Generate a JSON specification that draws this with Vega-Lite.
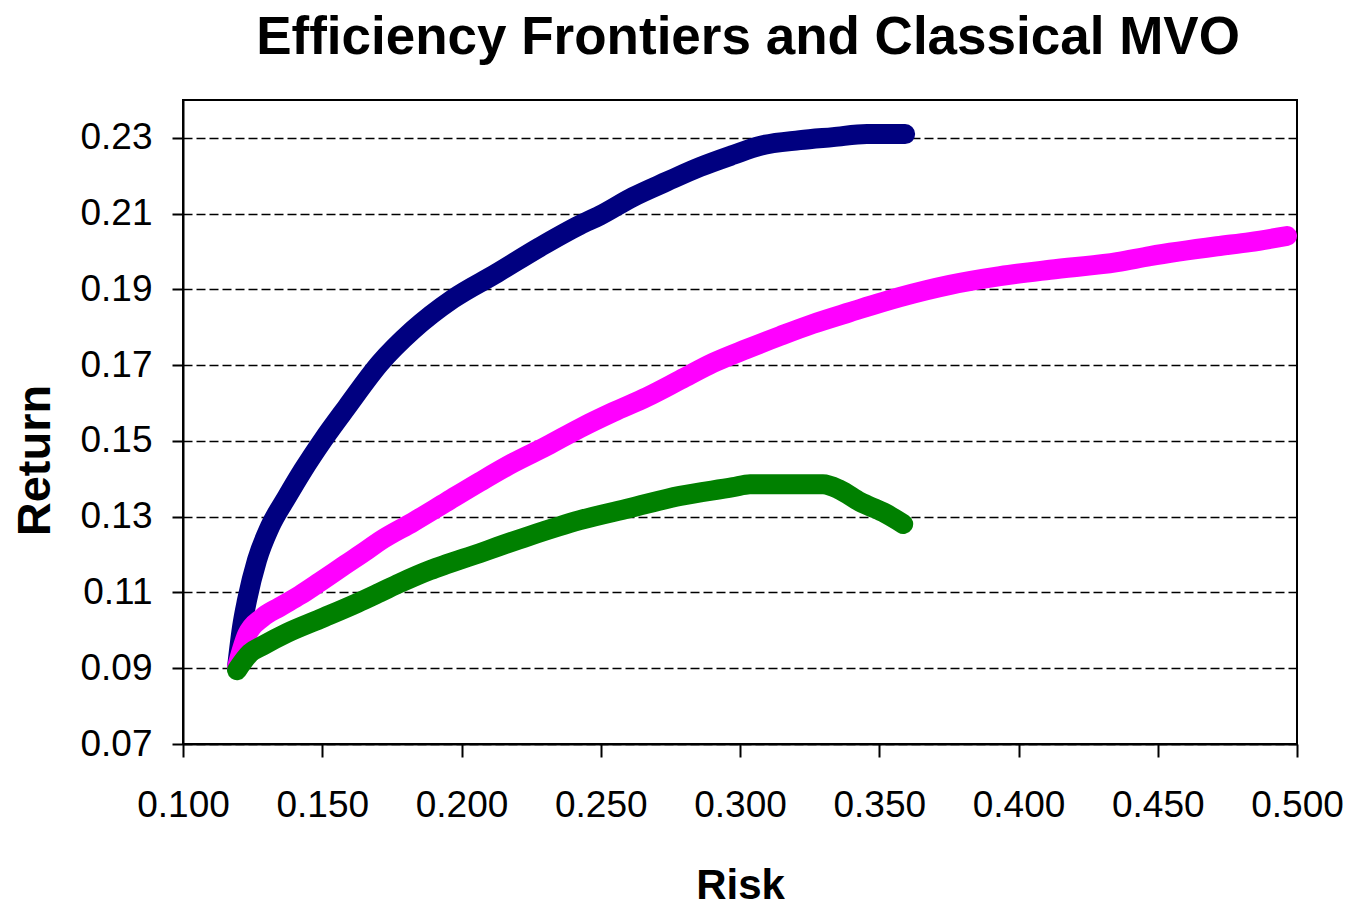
{
  "$schema": "https://vega.github.io/schema/vega-lite/v6.json",
  "autosize": {"type": "none"},
  "width": 1114,
  "height": 644,
  "padding": {"left": 183, "top": 100, "right": 53, "bottom": 162},
  "background": "white",
  "title": {
    "text": "Efficiency Frontiers and Classical MVO",
    "font": "Liberation Sans",
    "fontSize": 53,
    "fontWeight": "bold",
    "color": "black",
    "anchor": "middle",
    "baseline": "alphabetic",
    "offset": 0,
    "dy": 7,
    "dx": 8
  },
  "config": {
    "view": {"stroke": "black", "strokeWidth": 2},
    "axis": {
      "domainColor": "black",
      "domainWidth": 2,
      "tickColor": "black",
      "tickWidth": 2,
      "labelColor": "black",
      "titleColor": "black",
      "labelFont": "Liberation Sans",
      "titleFont": "Liberation Sans",
      "labelFontSize": 37,
      "titleFontSize": 42,
      "titleFontWeight": "bold"
    }
  },
  "data": {
    "values": [
      {"series": "Blue", "risk": 0.1194, "ret": 0.0903},
      {"series": "Blue", "risk": 0.1212, "ret": 0.1009},
      {"series": "Blue", "risk": 0.1230, "ret": 0.1080},
      {"series": "Blue", "risk": 0.1266, "ret": 0.1186},
      {"series": "Blue", "risk": 0.1312, "ret": 0.1273},
      {"series": "Blue", "risk": 0.1373, "ret": 0.1352},
      {"series": "Blue", "risk": 0.1431, "ret": 0.1423},
      {"series": "Blue", "risk": 0.1503, "ret": 0.1503},
      {"series": "Blue", "risk": 0.1589, "ret": 0.1590},
      {"series": "Blue", "risk": 0.1707, "ret": 0.1705},
      {"series": "Blue", "risk": 0.1826, "ret": 0.1793},
      {"series": "Blue", "risk": 0.1969, "ret": 0.1875},
      {"series": "Blue", "risk": 0.2127, "ret": 0.1943},
      {"series": "Blue", "risk": 0.2282, "ret": 0.2012},
      {"series": "Blue", "risk": 0.2425, "ret": 0.2070},
      {"series": "Blue", "risk": 0.2497, "ret": 0.2095},
      {"series": "Blue", "risk": 0.2616, "ret": 0.2144},
      {"series": "Blue", "risk": 0.2738, "ret": 0.2185},
      {"series": "Blue", "risk": 0.2856, "ret": 0.2223},
      {"series": "Blue", "risk": 0.2975, "ret": 0.2255},
      {"series": "Blue", "risk": 0.3072, "ret": 0.2279},
      {"series": "Blue", "risk": 0.3215, "ret": 0.2294},
      {"series": "Blue", "risk": 0.3334, "ret": 0.2302},
      {"series": "Blue", "risk": 0.3456, "ret": 0.2310},
      {"series": "Blue", "risk": 0.3593, "ret": 0.2310},

      {"series": "Magenta", "risk": 0.1194, "ret": 0.0903},
      {"series": "Magenta", "risk": 0.1230, "ret": 0.0988},
      {"series": "Magenta", "risk": 0.1284, "ret": 0.1033},
      {"series": "Magenta", "risk": 0.1348, "ret": 0.1062},
      {"series": "Magenta", "risk": 0.1420, "ret": 0.1093},
      {"series": "Magenta", "risk": 0.1492, "ret": 0.1128},
      {"series": "Magenta", "risk": 0.1582, "ret": 0.1173},
      {"series": "Magenta", "risk": 0.1661, "ret": 0.1212},
      {"series": "Magenta", "risk": 0.1707, "ret": 0.1236},
      {"series": "Magenta", "risk": 0.1826, "ret": 0.1286},
      {"series": "Magenta", "risk": 0.1948, "ret": 0.1340},
      {"series": "Magenta", "risk": 0.2066, "ret": 0.1392},
      {"series": "Magenta", "risk": 0.2185, "ret": 0.1442},
      {"series": "Magenta", "risk": 0.2307, "ret": 0.1487},
      {"series": "Magenta", "risk": 0.2426, "ret": 0.1534},
      {"series": "Magenta", "risk": 0.2544, "ret": 0.1576},
      {"series": "Magenta", "risk": 0.2666, "ret": 0.1616},
      {"series": "Magenta", "risk": 0.2785, "ret": 0.1661},
      {"series": "Magenta", "risk": 0.2903, "ret": 0.1706},
      {"series": "Magenta", "risk": 0.3025, "ret": 0.1743},
      {"series": "Magenta", "risk": 0.3144, "ret": 0.1777},
      {"series": "Magenta", "risk": 0.3262, "ret": 0.1809},
      {"series": "Magenta", "risk": 0.3395, "ret": 0.1840},
      {"series": "Magenta", "risk": 0.3575, "ret": 0.1880},
      {"series": "Magenta", "risk": 0.3754, "ret": 0.1912},
      {"series": "Magenta", "risk": 0.3934, "ret": 0.1935},
      {"series": "Magenta", "risk": 0.4113, "ret": 0.1952},
      {"series": "Magenta", "risk": 0.4354, "ret": 0.1972},
      {"series": "Magenta", "risk": 0.4472, "ret": 0.1988},
      {"series": "Magenta", "risk": 0.4713, "ret": 0.2014},
      {"series": "Magenta", "risk": 0.4831, "ret": 0.2025},
      {"series": "Magenta", "risk": 0.4964, "ret": 0.2041},

      {"series": "Green", "risk": 0.1194, "ret": 0.0895},
      {"series": "Green", "risk": 0.1241, "ret": 0.0940},
      {"series": "Green", "risk": 0.1287, "ret": 0.0960},
      {"series": "Green", "risk": 0.1373, "ret": 0.0993},
      {"series": "Green", "risk": 0.1492, "ret": 0.1030},
      {"series": "Green", "risk": 0.1625, "ret": 0.1072},
      {"series": "Green", "risk": 0.1707, "ret": 0.1100},
      {"series": "Green", "risk": 0.1779, "ret": 0.1125},
      {"series": "Green", "risk": 0.1887, "ret": 0.1159},
      {"series": "Green", "risk": 0.1948, "ret": 0.1175},
      {"series": "Green", "risk": 0.2066, "ret": 0.1204},
      {"series": "Green", "risk": 0.2127, "ret": 0.1220},
      {"series": "Green", "risk": 0.2246, "ret": 0.1250},
      {"series": "Green", "risk": 0.2425, "ret": 0.1291},
      {"series": "Green", "risk": 0.2605, "ret": 0.1323},
      {"series": "Green", "risk": 0.2785, "ret": 0.1355},
      {"series": "Green", "risk": 0.2975, "ret": 0.1378},
      {"series": "Green", "risk": 0.3036, "ret": 0.1386},
      {"series": "Green", "risk": 0.3180, "ret": 0.1386},
      {"series": "Green", "risk": 0.3298, "ret": 0.1386},
      {"series": "Green", "risk": 0.3359, "ret": 0.1371},
      {"series": "Green", "risk": 0.3431, "ret": 0.1339},
      {"series": "Green", "risk": 0.3514, "ret": 0.1312},
      {"series": "Green", "risk": 0.3586, "ret": 0.1281}
    ]
  },
  "encoding": {
    "x": {
      "field": "risk",
      "type": "quantitative",
      "scale": {"domain": [0.1, 0.5], "nice": false, "zero": false},
      "axis": {
        "title": "Risk",
        "values": [0.1, 0.15, 0.2, 0.25, 0.3, 0.35, 0.4, 0.45, 0.5],
        "format": ".3f",
        "grid": false,
        "tickSize": 13,
        "labelPadding": 30,
        "labelFlush": false,
        "titleY": 141,
        "titleBaseline": "middle"
      }
    },
    "y": {
      "field": "ret",
      "type": "quantitative",
      "scale": {"domain": [0.07, 0.24], "nice": false, "zero": false},
      "axis": {
        "title": "Return",
        "titleFontSize": 47,
        "values": [0.07, 0.09, 0.11, 0.13, 0.15, 0.17, 0.19, 0.21, 0.23],
        "format": ".2f",
        "grid": true,
        "gridColor": "black",
        "gridDash": [9, 4],
        "gridWidth": 1.5,
        "tickSize": 11,
        "labelPadding": 20,
        "labelFlush": false,
        "titleAngle": -90,
        "titleAlign": "center",
        "titleBaseline": "middle",
        "titleX": -148,
        "titleY": 360
      }
    }
  },
  "layer": [
    {
      "transform": [{"filter": "datum.series === 'Blue'"}],
      "mark": {"type": "line", "color": "#000080", "strokeWidth": 20, "strokeCap": "round", "strokeJoin": "round", "interpolate": "monotone"}
    },
    {
      "transform": [{"filter": "datum.series === 'Magenta'"}],
      "mark": {"type": "line", "color": "#FF00FF", "strokeWidth": 20, "strokeCap": "round", "strokeJoin": "round", "interpolate": "monotone"}
    },
    {
      "transform": [{"filter": "datum.series === 'Green'"}],
      "mark": {"type": "line", "color": "#008000", "strokeWidth": 20, "strokeCap": "round", "strokeJoin": "round", "interpolate": "monotone"}
    }
  ]
}
